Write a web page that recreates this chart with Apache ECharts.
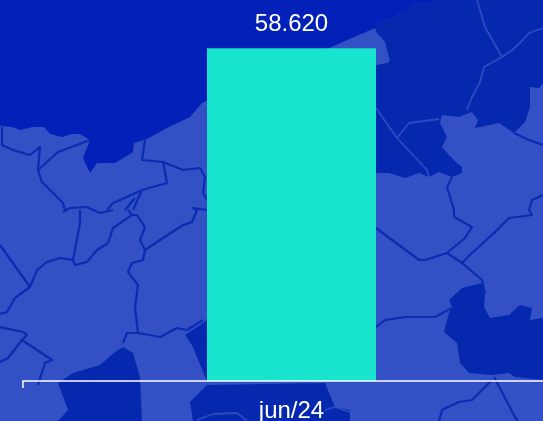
<!DOCTYPE html>
<html>
<head>
<meta charset="utf-8">
<style>
html, body { margin: 0; padding: 0; background: #0320b9; }
#main { width: 543px; height: 421px; }
</style>
<script src="https://cdn.jsdelivr.net/npm/echarts@6/dist/echarts.min.js"></script>
</head>
<body>
<div id="main"></div>
<script>
// dados do grafico
var categories = ['jun/24'];
var values = [58620];

// cores
var seaColor = '#0320b9';
var landColor = '#3350c4';
var darkColor = '#0628af';
var lineDark = '#0a2cb2';
var lineLight = '#2f4ac0';

// mapa de fundo (decorativo)
var land = [[0,126],[12,127],[20,130],[33,127],[44,127],[50,134],[62,137],[72,134],[80,134],[90,140],[83,158],[90,173],[97,163],[115,163],[133,152],[134,143],[147,139],[167,128],[190,117],[202,103],[260,75],[329,48],[375,28],[379,23],[405,12],[415,4],[432,3],[442,0],[543,0],[543,421],[0,421]];
var darkAreas = [
    [[376,65],[387,63],[390,61],[387,50],[385,42],[377,33],[375,28],[379,23],[405,12],[415,4],[432,3],[442,0],[543,0],[543,83],[539,88],[530,87],[530,107],[525,122],[514,133],[499,123],[480,127],[475,128],[478,120],[472,112],[459,117],[442,115],[440,123],[447,137],[442,147],[449,155],[457,163],[462,167],[462,173],[452,177],[439,172],[429,177],[419,173],[405,178],[389,173],[376,173],[340,173]],
    [[449,300],[462,288],[482,283],[485,293],[484,307],[490,318],[509,315],[512,312],[520,305],[532,308],[530,320],[543,318],[543,380],[515,377],[509,373],[492,375],[469,373],[460,363],[457,343],[444,332],[449,313],[452,307]],
    [[58,383],[73,373],[100,365],[115,352],[123,347],[133,353],[140,377],[142,421],[58,421],[68,410]],
    [[185,335],[200,325],[207,320],[250,320],[250,381],[207,381],[197,357],[192,345]],
    [[207,385],[325,383],[335,407],[350,410],[350,421],[193,421],[190,402]]
];
var lightLines = [
    [[477,0],[485,27],[502,57]],
    [[502,57],[484,67],[480,82],[472,97],[467,110]],
    [[502,57],[512,50],[520,43],[529,33],[543,28]],
    [[376,108],[397,138],[427,170],[429,177]],
    [[397,138],[409,123],[439,119]],
    [[197,420],[213,414],[237,413],[247,421]],
    [[325,410],[335,407],[350,412]]
];
var darkLines = [
    [[447,187],[454,210],[454,217],[472,227],[465,238],[447,253],[462,263],[482,280],[485,293]],
    [[452,177],[447,187]],
    [[447,253],[425,260],[419,260],[376,228]],
    [[462,263],[472,253],[495,232],[509,218],[532,215],[529,210],[532,200],[539,197],[543,195]],
    [[514,133],[529,140],[543,145]],
    [[452,308],[435,317],[417,317],[405,317],[385,320],[376,327]],
    [[494,377],[515,417],[518,421]],
    [[492,380],[472,400],[459,402],[442,410],[439,421]],
    [[2,127],[2,145],[13,150],[30,155],[40,147],[38,170],[42,182],[63,203],[65,210]],
    [[38,170],[58,152],[90,140]],
    [[145,140],[142,160],[163,162],[167,183],[142,190],[133,210]],
    [[163,162],[183,170],[200,168],[205,177],[203,193],[207,200]],
    [[142,190],[127,197],[113,203],[107,210]],
    [[63,212],[70,208],[87,207],[100,213],[113,210]],
    [[80,210],[80,223],[73,260],[75,265],[87,262],[97,250],[108,243],[113,228],[132,215],[128,210]],
    [[73,260],[60,258],[47,262],[37,270],[30,287],[15,298],[7,312],[0,314]],
    [[0,245],[30,287]],
    [[132,215],[137,215],[145,227],[140,240],[145,250],[143,260],[132,263],[128,272],[138,285],[135,307],[138,333],[127,333],[123,343]],
    [[138,333],[160,337],[177,328],[187,330],[203,320]],
    [[145,250],[163,238],[183,225],[192,222],[197,210],[193,208],[207,210]],
    [[0,327],[23,332],[27,335],[22,340],[52,360],[45,363],[38,385]],
    [[22,340],[8,358],[0,362]],
    [[125,210],[135,198]]
];

function formatValue(val) {
    return String(val).replace(/\B(?=(\d{3})+$)/g, '.');
}

function buildMap() {
    var items = [{ type: 'polygon', silent: true, z: -5, shape: { points: land }, style: { fill: landColor } }];
    for (var i = 0; i < darkAreas.length; i++) {
        items.push({ type: 'polygon', silent: true, z: -4, shape: { points: darkAreas[i] }, style: { fill: darkColor } });
    }
    for (var i = 0; i < lightLines.length; i++) {
        items.push({ type: 'polyline', silent: true, z: -3, shape: { points: lightLines[i] }, style: { fill: null, stroke: lineLight, lineWidth: 1.8, lineJoin: 'round' } });
    }
    for (var i = 0; i < darkLines.length; i++) {
        items.push({ type: 'polyline', silent: true, z: -3, shape: { points: darkLines[i] }, style: { fill: null, stroke: lineDark, lineWidth: 2.2, lineJoin: 'round' } });
    }
    return items;
}

var chartObj = echarts.init(document.getElementById('main'), null, { renderer: 'canvas' });
var chartOpt = {
    animation: false,
    backgroundColor: seaColor,
    graphic: { elements: buildMap() },
    grid: { left: 23, width: 537, top: 12, height: 369, outerBoundsMode: 'none' },
    xAxis: {
        type: 'category',
        data: categories,
        z: 5,
        axisLine: { show: true, lineStyle: { color: 'rgba(255,255,255,0.75)', width: 2 } },
        axisTick: { show: true, length: 7, lineStyle: { color: 'rgba(255,255,255,0.75)', width: 2 } },
        axisLabel: { color: '#ffffff', fontFamily: 'Liberation Sans', fontSize: 24, margin: 18 }
    },
    yAxis: { type: 'value', min: 0, max: 65000, show: false },
    series: [{
        type: 'bar',
        z: 4,
        data: values,
        barWidth: 169,
        itemStyle: { color: '#19e5cf' },
        label: {
            show: true,
            position: 'top',
            distance: 12,
            color: '#ffffff',
            fontFamily: 'Liberation Sans',
            fontSize: 24,
            formatter: function(p) { return formatValue(p.value); }
        }
    }]
};
chartObj.setOption(chartOpt);
</script>
</body>
</html>
